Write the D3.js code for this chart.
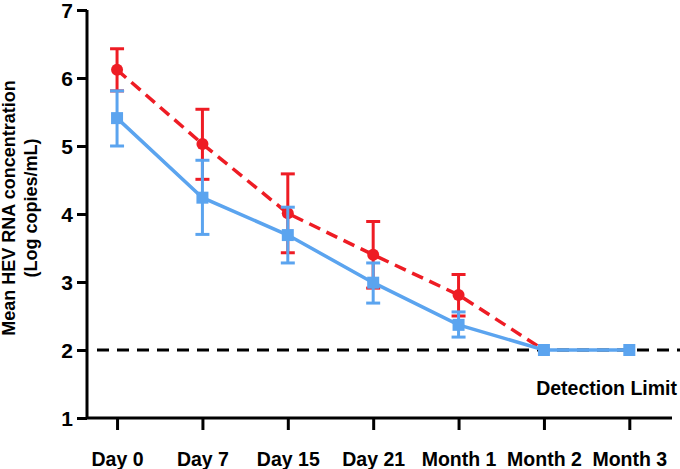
<!DOCTYPE html>
<html><head><meta charset="utf-8">
<script src="https://cdn.jsdelivr.net/npm/d3@7"></script>
<style>body{margin:0;background:#fff}svg{display:block;font-family:"Liberation Sans",Arial,sans-serif;font-weight:bold}</style>
</head><body><svg id="c" width="680" height="469"></svg>
<script>
const categories = ["Day 0","Day 7","Day 15","Day 21","Month 1","Month 2","Month 3"];
const redMean  = [6.12, 5.03, 4.01, 3.40, 2.81, 2.00];
const redUpper = [6.43, 5.54, 4.59, 3.89, 3.11, 2.00];
const redLower = [5.81, 4.51, 3.43, 2.91, 2.50, 2.00];
const blueMean  = [5.41, 4.24, 3.69, 2.99, 2.37, 2.00, 2.00];
const blueUpper = [5.81, 4.79, 4.10, 3.28, 2.56, 2.00, 2.00];
const blueLower = [5.00, 3.70, 3.28, 2.69, 2.19, 2.00, 2.00];
const yTicks = [1,2,3,4,5,6,7];
const detectionLimit = 2;

const FONT = "'Liberation Sans', Arial, sans-serif";
const svg = d3.select("#c");
const x = d3.scaleLinear().domain([-0.352, 6.5]).range([87, 672]);
const y = d3.scaleLinear().domain([1, 7]).range([418, 10]);
const RED = "#ee1c24", BLUE = "#5ba4ef";

// detection line
svg.append("line").attr("x1", 97).attr("x2", 680).attr("y1", y(detectionLimit)).attr("y2", y(detectionLimit))
  .attr("stroke","#000").attr("stroke-width",3).attr("stroke-dasharray","12,8");
svg.append("text").attr("x",677).attr("y",y(detectionLimit)+45).attr("text-anchor","end")
  .attr("font-size",19.5).text("Detection Limit");

// axes
const yAxis = svg.append("g").attr("transform","translate(87,0)")
  .call(d3.axisLeft(y).tickValues(yTicks).tickSize(10).tickPadding(4).tickFormat(d3.format("d")));
const xAxis = svg.append("g").attr("transform","translate(0,418)")
  .call(d3.axisBottom(x).tickValues(d3.range(categories.length)).tickSize(12).tickPadding(22).tickFormat(i=>categories[i]));
[yAxis,xAxis].forEach(g=>{
  g.select(".domain").attr("stroke","#000").attr("stroke-width",3);
  g.selectAll(".tick line").attr("stroke","#000").attr("stroke-width",3);
  g.selectAll("text").attr("fill","#000").attr("font-family",FONT).attr("font-weight","bold");
});
yAxis.select(".domain").attr("d","M0,10V418");
xAxis.select(".domain").attr("d","M87,0H672");
yAxis.selectAll("text").attr("font-size",21).attr("dy","0.36em");
xAxis.selectAll("text").attr("font-size",19.5);

// y label
const yl = svg.append("text").attr("transform","translate(15,208) rotate(-90)").attr("text-anchor","middle").attr("font-size",18);
yl.append("tspan").attr("x",0).attr("dy",0).text("Mean HEV RNA concentration");
yl.append("tspan").attr("x",0).attr("dy",22).text("(Log copies/mL)");

function errBars(mean, up, lo, color){
  const g = svg.append("g").attr("stroke",color).attr("stroke-width",3);
  mean.forEach((m,i)=>{
    if (up[i]===lo[i]) return;
    g.append("line").attr("x1",x(i)).attr("x2",x(i)).attr("y1",y(up[i])).attr("y2",y(lo[i]));
    [up[i],lo[i]].forEach(v=>g.append("line").attr("x1",x(i)-7).attr("x2",x(i)+7).attr("y1",y(v)).attr("y2",y(v)));
  });
}
const line = d3.line().x((d,i)=>x(i)).y(d=>y(d));

// red series
errBars(redMean, redUpper, redLower, RED);
svg.append("path").datum(redMean).attr("d",line).attr("fill","none").attr("stroke",RED).attr("stroke-width",3.5).attr("stroke-dasharray","12,7");
svg.append("g").selectAll("circle").data(redMean).join("circle").attr("cx",(d,i)=>x(i)).attr("cy",d=>y(d)).attr("r",6).attr("fill",RED);

// blue series
errBars(blueMean, blueUpper, blueLower, BLUE);
svg.append("path").datum(blueMean).attr("d",line).attr("fill","none").attr("stroke",BLUE).attr("stroke-width",3.5);
svg.append("g").selectAll("rect").data(blueMean).join("rect").attr("x",(d,i)=>x(i)-6).attr("y",d=>y(d)-6).attr("width",12).attr("height",12).attr("fill",BLUE);
</script></body></html>
